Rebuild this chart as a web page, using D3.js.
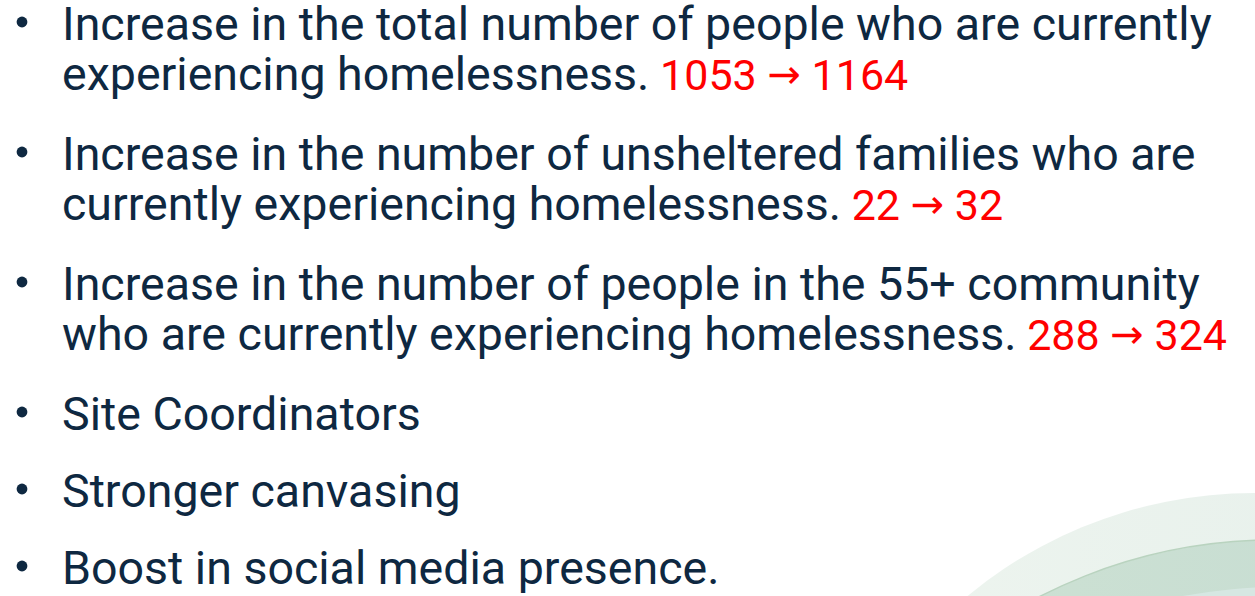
<!DOCTYPE html>
<html>
<head>
<meta charset="utf-8">
<script src="https://cdn.jsdelivr.net/npm/d3@7"></script>
<style>
  html, body { margin: 0; padding: 0; background: #ffffff; }
  svg { display: block; }
</style>
</head>
<body>
<div id="slide"></div>
<script>
// bullet text, one entry per bullet, one string per wrapped line
var bulletLines = [
    ["Increase in the total number of people who are currently", "experiencing homelessness."],
    ["Increase in the number of unsheltered families who are", "currently experiencing homelessness."],
    ["Increase in the number of people in the 55+ community", "who are currently experiencing homelessness."],
    ["Site Coordinators"],
    ["Stronger canvasing"],
    ["Boost in social media presence."]
];
// before -> after counts shown in red (null = none)
var fromValues = [1053, 22, 288, null, null, null];
var toValues = [1164, 32, 324, null, null, null];

var width = 1255, height = 596;
var textColor = "#0e2841";
var redColor = "#ff0000";
var leftText = 62;
var lineHeight = 50;

var svg = d3.select("#slide")
    .append("svg")
    .attr("width", width)
    .attr("height", height);

// decorative green swoosh, bottom right
var defs = svg.append("defs");
var g1 = defs.append("linearGradient").attr("id", "gOuter")
    .attr("x1", "0").attr("x2", "1").attr("y1", "0").attr("y2", "0");
g1.append("stop").attr("offset", "0%").attr("stop-color", "#eef5ef");
g1.append("stop").attr("offset", "100%").attr("stop-color", "#e4eeea");
var g2 = defs.append("linearGradient").attr("id", "gInner")
    .attr("x1", "0").attr("x2", "1").attr("y1", "0").attr("y2", "0");
g2.append("stop").attr("offset", "0%").attr("stop-color", "#cfe3d3");
g2.append("stop").attr("offset", "100%").attr("stop-color", "#c2d9d2");

svg.append("circle").attr("cx", 1254).attr("cy", 943).attr("r", 450)
    .attr("fill", "url(#gOuter)");
svg.append("circle").attr("cx", 1274).attr("cy", 1054).attr("r", 514)
    .attr("fill", "url(#gInner)")
    .attr("stroke", "#b9d3bf").attr("stroke-width", 1.5);
svg.append("circle").attr("cx", 1300).attr("cy", 1279).attr("r", 693)
    .attr("fill", "#d6e7e2");

// fit main font size so the first line spans the same width as the slide
var probe = svg.append("text")
    .attr("font-family", "Roboto")
    .attr("font-size", 40)
    .text(bulletLines[0][0]);
var fontSize = 40 * 1150 / probe.node().getComputedTextLength();
probe.remove();

var y = 40;
bulletLines.forEach(function(lines, i) {
    svg.append("circle")
        .attr("cx", 22)
        .attr("cy", y - 18)
        .attr("r", 5.4)
        .attr("fill", textColor);

    lines.forEach(function(line, j) {
        var t = svg.append("text")
            .attr("x", leftText)
            .attr("y", y + j * lineHeight)
            .attr("font-family", "Roboto")
            .attr("font-size", fontSize)
            .attr("fill", textColor)
            .text(line);

        if (j == lines.length - 1 && fromValues[i] != null) {
            t.append("tspan")
                .attr("font-size", 43)
                .attr("fill", redColor)
                .text(" " + fromValues[i] + " ");
            t.append("tspan")
                .attr("font-family", "DejaVu Sans")
                .attr("font-size", 40)
                .attr("dy", -2)
                .attr("fill", redColor)
                .text("\u2192");
            t.append("tspan")
                .attr("font-size", 43)
                .attr("dy", 2)
                .attr("fill", redColor)
                .text(" " + toValues[i]);
        }
    });

    y += lines.length * lineHeight + (lines.length > 1 ? 30 : 27);
});
</script>
</body>
</html>
